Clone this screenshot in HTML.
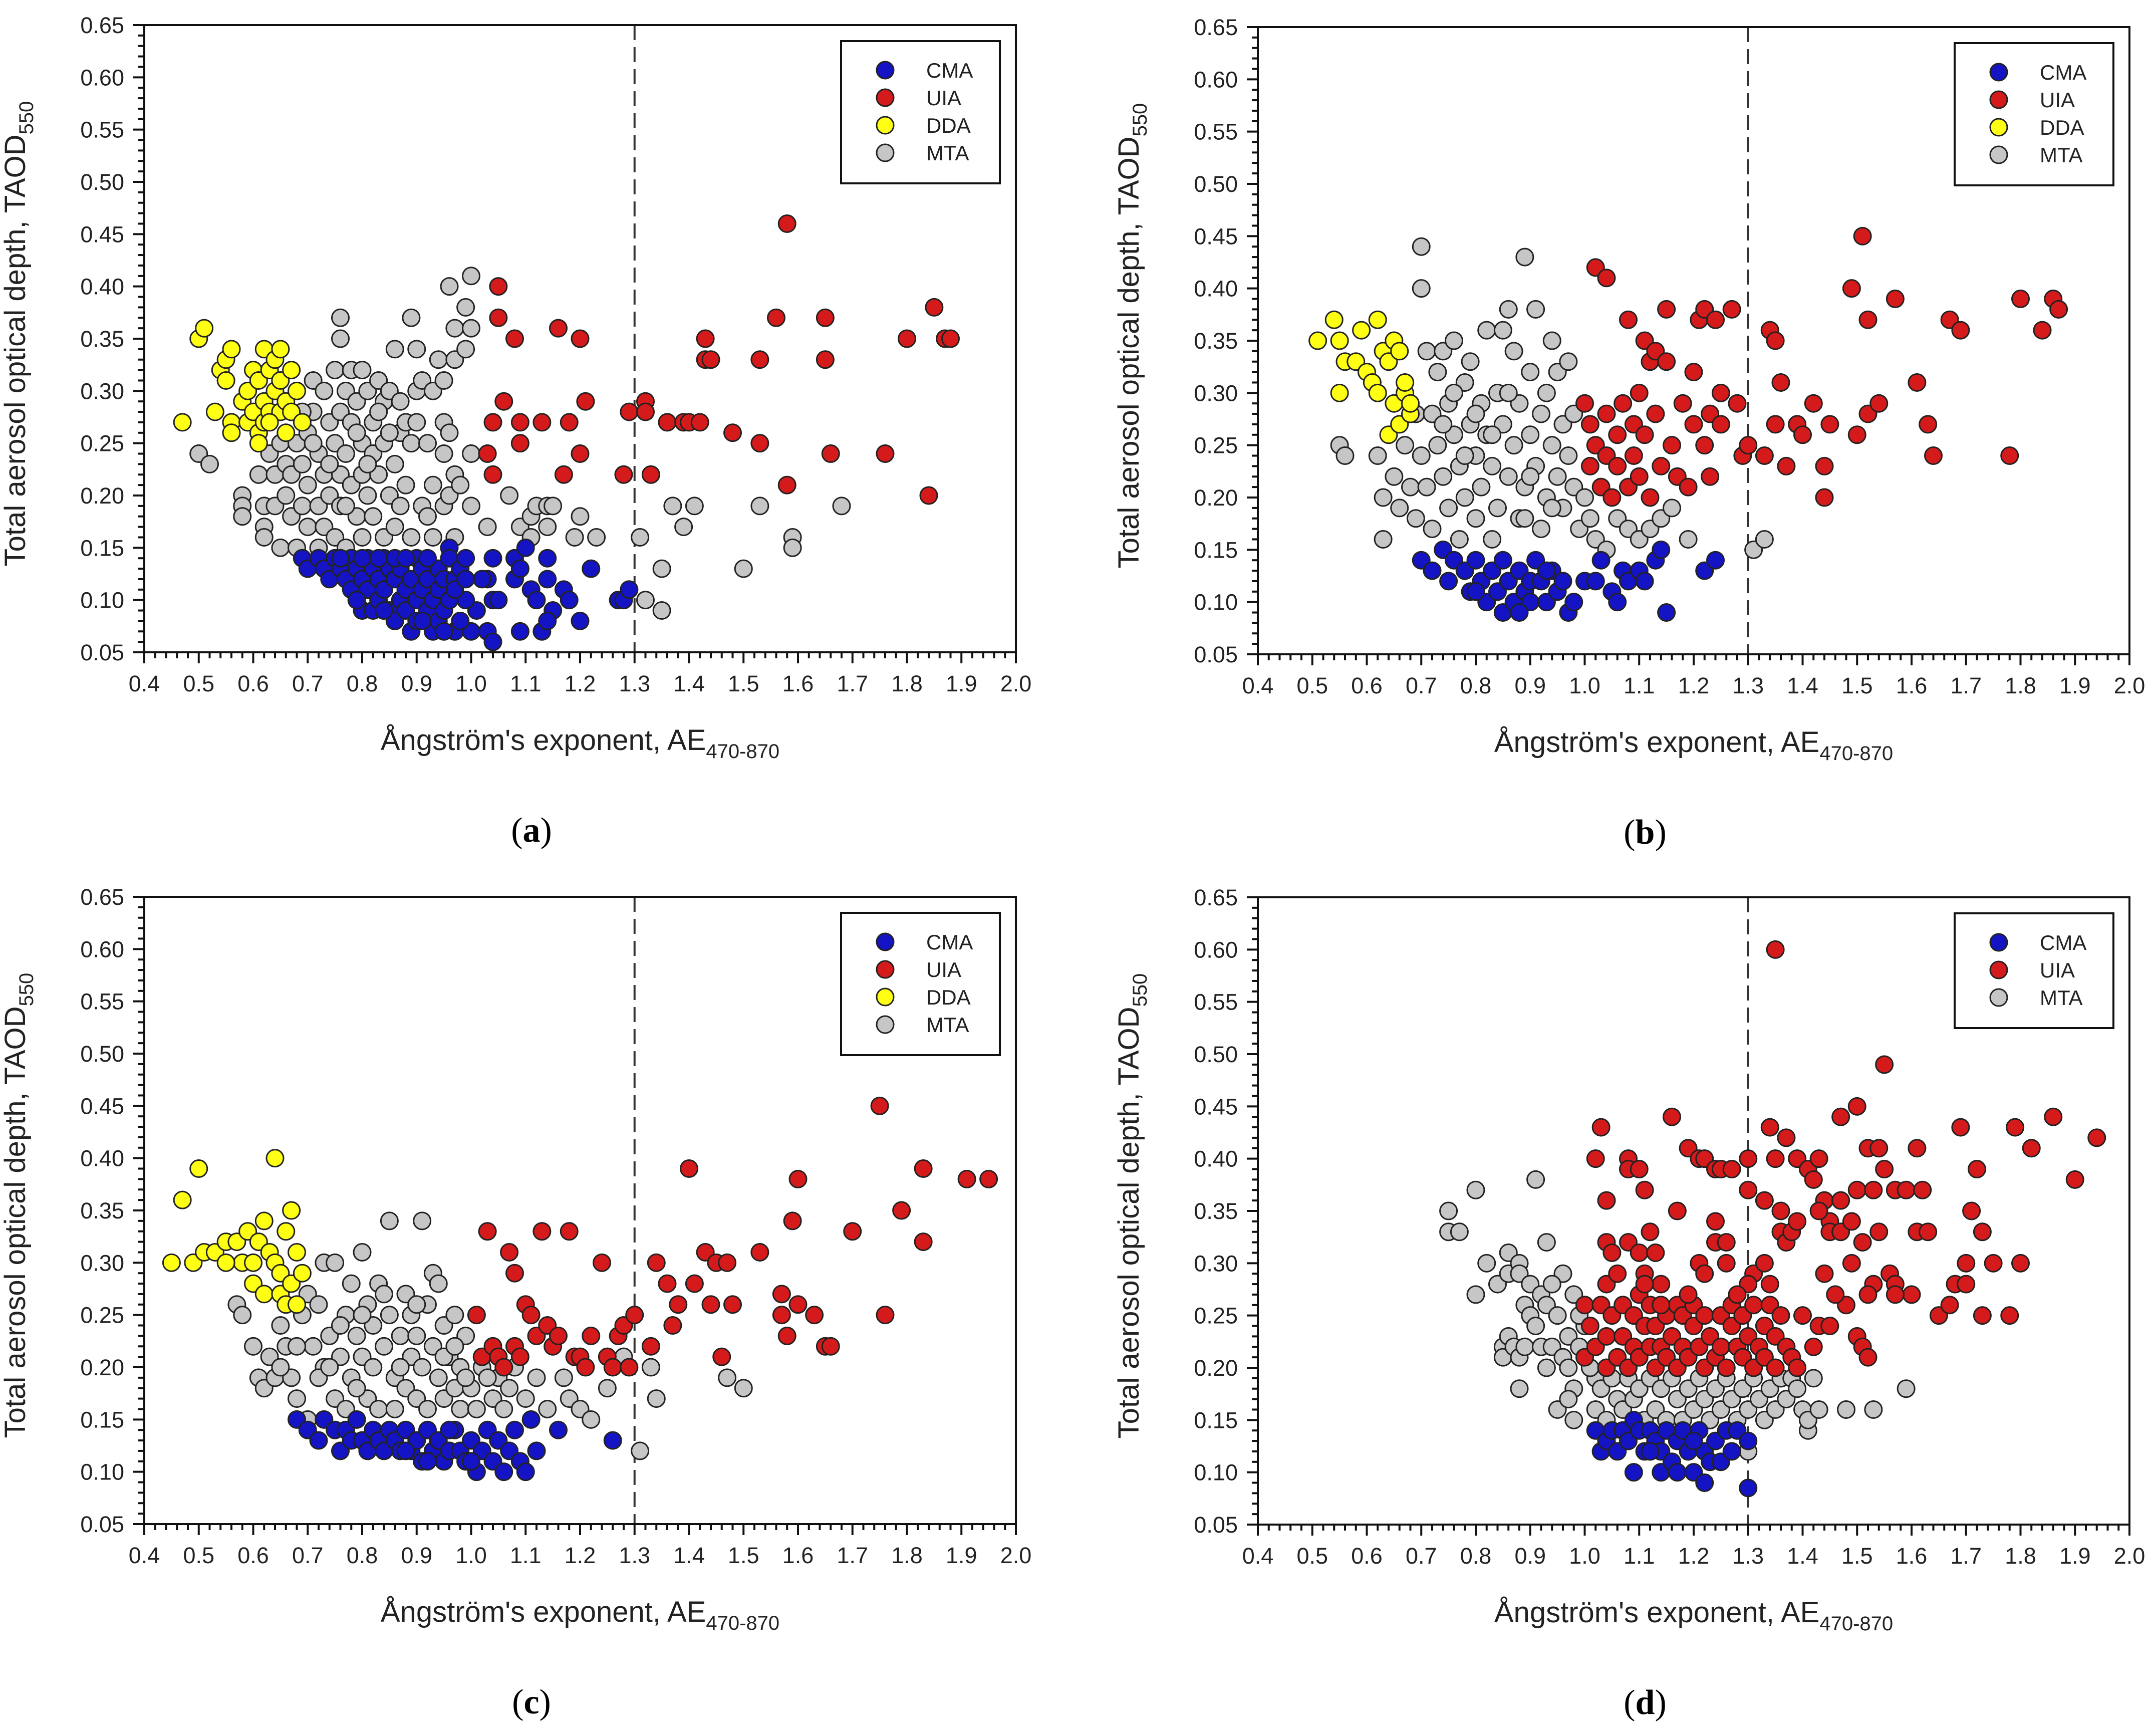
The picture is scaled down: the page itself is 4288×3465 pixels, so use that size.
<!DOCTYPE html>
<html><head><meta charset="utf-8">
<style>
html,body{margin:0;padding:0;background:#fff;}
svg{display:block;}
text{font-family:"Liberation Sans",Arial,sans-serif;fill:#222;}
.lbl{font-family:"Liberation Serif","Times New Roman",serif;fill:#000;}
</style></head>
<body>
<svg id="fig" width="4288" height="3465" viewBox="0 0 4288 3465" xmlns="http://www.w3.org/2000/svg"></svg>
<script>
// ---------- data (AE, TAOD) ----------
const xTicks = [0.4,0.5,0.6,0.7,0.8,0.9,1.0,1.1,1.2,1.3,1.4,1.5,1.6,1.7,1.8,1.9,2.0];
const yTicks = [0.05,0.10,0.15,0.20,0.25,0.30,0.35,0.40,0.45,0.50,0.55,0.60,0.65];
const thresholdAE = 1.3;

const aCMA = [[1.04,0.14],[1.03,0.12],[1.04,0.10],[1.03,0.07],[1.04,0.06],[1.05,0.10],[1.08,0.14],[1.08,0.12],[1.09,0.13],[1.10,0.15],[1.09,0.07],[1.11,0.11],[1.12,0.10],[1.14,0.14],[1.14,0.12],[1.13,0.07],[1.15,0.09],[1.14,0.08],[1.17,0.11],[1.18,0.10],[1.20,0.08],[1.22,0.13],[1.27,0.10],[1.28,0.10],[1.29,0.11],[1.02,0.12],[1.00,0.07],[1.01,0.09],[0.99,0.10],
[0.69,0.14],[0.70,0.13],[0.72,0.14],[0.73,0.13],[0.74,0.12],[0.75,0.14],[0.76,0.13],[0.77,0.12],[0.78,0.11],[0.78,0.14],[0.79,0.13],[0.80,0.12],[0.80,0.09],[0.81,0.14],[0.81,0.11],[0.82,0.13],[0.82,0.09],[0.83,0.12],[0.83,0.10],[0.84,0.14],[0.84,0.11],[0.85,0.13],[0.85,0.09],[0.86,0.12],[0.86,0.08],[0.87,0.10],[0.87,0.13],[0.88,0.11],[0.88,0.09],[0.89,0.12],[0.89,0.07],[0.90,0.14],[0.90,0.10],[0.90,0.08],[0.91,0.13],[0.91,0.11],[0.92,0.09],[0.92,0.12],[0.93,0.10],[0.93,0.07],[0.94,0.08],[0.94,0.11],[0.94,0.13],[0.95,0.12],[0.95,0.09],[0.96,0.15],[0.96,0.10],[0.96,0.14],[0.97,0.12],[0.97,0.07],[0.97,0.11],[0.98,0.13],[0.98,0.08],[0.99,0.14],[0.99,0.12],[0.86,0.14],[0.88,0.14],[0.92,0.14],[0.79,0.10],[0.84,0.09],[0.91,0.08],[0.95,0.07],[0.76,0.14],[0.80,0.14],[0.83,0.14]];
const aUIA = [[1.05,0.40],[1.05,0.37],[1.08,0.35],[1.16,0.36],[1.20,0.35],[1.06,0.29],[1.21,0.29],[1.04,0.27],[1.09,0.27],[1.13,0.27],[1.18,0.27],[1.09,0.25],[1.03,0.24],[1.20,0.24],[1.04,0.22],[1.17,0.22],[1.28,0.22],[1.33,0.22],[1.29,0.28],[1.32,0.29],[1.32,0.28],[1.36,0.27],[1.39,0.27],[1.40,0.27],[1.42,0.27],[1.43,0.35],[1.43,0.33],[1.44,0.33],[1.48,0.26],[1.53,0.25],[1.53,0.33],[1.56,0.37],[1.58,0.46],[1.58,0.21],[1.65,0.37],[1.65,0.33],[1.66,0.24],[1.76,0.24],[1.80,0.35],[1.84,0.20],[1.85,0.38],[1.87,0.35],[1.88,0.35]];
const aDDA = [[0.47,0.27],[0.50,0.35],[0.51,0.36],[0.53,0.28],[0.54,0.32],[0.55,0.31],[0.55,0.33],[0.56,0.34],[0.56,0.27],[0.56,0.26],[0.58,0.29],[0.59,0.30],[0.59,0.27],[0.60,0.32],[0.60,0.28],[0.61,0.31],[0.61,0.26],[0.62,0.34],[0.62,0.29],[0.62,0.27],[0.63,0.32],[0.63,0.28],[0.64,0.30],[0.64,0.33],[0.65,0.34],[0.65,0.31],[0.65,0.28],[0.66,0.29],[0.66,0.26],[0.67,0.32],[0.67,0.28],[0.68,0.30],[0.69,0.27],[0.61,0.25],[0.63,0.27]];
const aMTA = [[0.50,0.24],[0.52,0.23],[0.58,0.20],[0.58,0.19],[0.58,0.18],[0.61,0.22],[0.62,0.19],[0.62,0.17],[0.62,0.16],[0.65,0.15],[0.64,0.19],[0.63,0.24],[0.64,0.22],[0.65,0.25],[0.66,0.23],[0.66,0.20],[0.67,0.18],[0.67,0.22],[0.68,0.15],[0.68,0.25],[0.69,0.19],[0.69,0.23],[0.70,0.17],[0.70,0.21],[0.70,0.26],[0.71,0.28],[0.71,0.31],[0.72,0.24],[0.72,0.19],[0.72,0.15],[0.73,0.30],[0.73,0.22],[0.73,0.17],[0.74,0.27],[0.74,0.20],[0.75,0.32],[0.75,0.25],[0.75,0.16],[0.76,0.37],[0.76,0.35],[0.76,0.28],[0.76,0.22],[0.76,0.19],[0.77,0.30],[0.77,0.24],[0.77,0.15],[0.78,0.32],[0.78,0.27],[0.78,0.21],[0.79,0.18],[0.79,0.29],[0.80,0.32],[0.80,0.25],[0.80,0.22],[0.80,0.16],[0.81,0.30],[0.81,0.20],[0.82,0.27],[0.82,0.24],[0.82,0.18],[0.83,0.31],[0.83,0.22],[0.84,0.29],[0.84,0.25],[0.84,0.16],[0.85,0.30],[0.85,0.20],[0.86,0.34],[0.86,0.23],[0.86,0.17],[0.87,0.26],[0.87,0.19],[0.88,0.27],[0.88,0.21],[0.89,0.37],[0.89,0.25],[0.89,0.16],[0.90,0.34],[0.90,0.30],[0.90,0.27],[0.91,0.31],[0.91,0.19],[0.92,0.18],[0.93,0.30],[0.93,0.21],[0.93,0.16],[0.94,0.33],[0.95,0.31],[0.95,0.27],[0.95,0.24],[0.95,0.19],[0.96,0.40],[0.96,0.26],[0.96,0.20],[0.97,0.36],[0.97,0.33],[0.97,0.22],[0.97,0.16],[0.98,0.21],[0.99,0.38],[0.99,0.34],[1.00,0.41],[1.00,0.36],[1.00,0.24],[1.00,0.19],[1.03,0.17],[1.07,0.20],[1.09,0.17],[1.11,0.16],[1.11,0.18],[1.12,0.19],[1.14,0.19],[1.15,0.19],[1.14,0.17],[1.19,0.16],[1.20,0.18],[1.23,0.16],[1.31,0.16],[1.32,0.10],[1.35,0.13],[1.35,0.09],[1.37,0.19],[1.39,0.17],[1.41,0.19],[1.50,0.13],[1.53,0.19],[1.59,0.16],[1.59,0.15],[1.68,0.19],[0.69,0.28],[0.71,0.25],[0.74,0.23],[0.79,0.26],[0.83,0.28],[0.87,0.29],[0.92,0.25],[0.85,0.26],[0.81,0.23],[0.77,0.19]];

const bCMA = [[0.70,0.14],[0.72,0.13],[0.74,0.15],[0.75,0.12],[0.76,0.14],[0.78,0.13],[0.79,0.11],[0.80,0.14],[0.81,0.12],[0.82,0.10],[0.83,0.13],[0.84,0.11],[0.85,0.14],[0.85,0.09],[0.86,0.12],[0.87,0.10],[0.88,0.13],[0.89,0.11],[0.90,0.12],[0.90,0.10],[0.91,0.14],[0.92,0.12],[0.93,0.10],[0.94,0.13],[0.95,0.11],[0.96,0.12],[0.97,0.09],[0.98,0.10],[1.00,0.12],[1.02,0.12],[1.03,0.14],[1.05,0.11],[1.06,0.10],[1.07,0.13],[1.08,0.12],[1.10,0.13],[1.11,0.12],[1.13,0.14],[1.14,0.15],[1.15,0.09],[1.22,0.13],[1.24,0.14],[0.88,0.09],[0.93,0.13],[0.80,0.11]];
const bUIA = [[1.02,0.42],[1.04,0.41],[1.00,0.29],[1.01,0.27],[1.01,0.23],[1.02,0.25],[1.03,0.21],[1.04,0.28],[1.04,0.24],[1.05,0.20],[1.06,0.26],[1.06,0.23],[1.07,0.29],[1.08,0.21],[1.08,0.37],[1.09,0.27],[1.09,0.24],[1.10,0.30],[1.10,0.22],[1.11,0.35],[1.11,0.26],[1.12,0.33],[1.12,0.20],[1.13,0.34],[1.13,0.28],[1.14,0.23],[1.15,0.38],[1.15,0.33],[1.16,0.25],[1.17,0.22],[1.18,0.29],[1.19,0.21],[1.20,0.27],[1.20,0.32],[1.21,0.37],[1.22,0.38],[1.22,0.25],[1.23,0.22],[1.23,0.28],[1.24,0.37],[1.25,0.30],[1.25,0.27],[1.27,0.38],[1.28,0.29],[1.29,0.24],[1.30,0.25],[1.33,0.24],[1.34,0.36],[1.35,0.35],[1.35,0.27],[1.36,0.31],[1.37,0.23],[1.39,0.27],[1.40,0.26],[1.42,0.29],[1.44,0.23],[1.44,0.20],[1.45,0.27],[1.49,0.40],[1.50,0.26],[1.51,0.45],[1.52,0.37],[1.52,0.28],[1.54,0.29],[1.57,0.39],[1.61,0.31],[1.63,0.27],[1.64,0.24],[1.67,0.37],[1.69,0.36],[1.78,0.24],[1.80,0.39],[1.84,0.36],[1.86,0.39],[1.87,0.38]];
const bDDA = [[0.51,0.35],[0.54,0.37],[0.55,0.35],[0.55,0.30],[0.56,0.33],[0.58,0.33],[0.59,0.36],[0.60,0.32],[0.61,0.31],[0.62,0.37],[0.62,0.30],[0.63,0.34],[0.64,0.33],[0.64,0.26],[0.65,0.35],[0.65,0.29],[0.66,0.34],[0.66,0.27],[0.67,0.30],[0.67,0.31],[0.68,0.28],[0.68,0.29]];
const bMTA = [[0.55,0.25],[0.56,0.24],[0.62,0.24],[0.63,0.20],[0.63,0.16],[0.65,0.22],[0.66,0.19],[0.67,0.25],[0.68,0.21],[0.69,0.28],[0.69,0.18],[0.70,0.44],[0.70,0.40],[0.70,0.24],[0.71,0.34],[0.71,0.21],[0.72,0.28],[0.72,0.17],[0.73,0.32],[0.73,0.25],[0.74,0.34],[0.74,0.22],[0.75,0.29],[0.75,0.19],[0.76,0.35],[0.76,0.26],[0.77,0.23],[0.77,0.16],[0.78,0.31],[0.78,0.20],[0.79,0.33],[0.79,0.27],[0.80,0.24],[0.80,0.18],[0.81,0.29],[0.81,0.21],[0.82,0.36],[0.82,0.26],[0.83,0.23],[0.83,0.16],[0.84,0.30],[0.84,0.19],[0.85,0.36],[0.85,0.27],[0.86,0.38],[0.86,0.22],[0.87,0.34],[0.87,0.25],[0.88,0.18],[0.88,0.29],[0.89,0.43],[0.89,0.21],[0.90,0.26],[0.90,0.32],[0.91,0.38],[0.91,0.23],[0.92,0.28],[0.92,0.17],[0.93,0.30],[0.93,0.20],[0.94,0.35],[0.94,0.25],[0.95,0.22],[0.95,0.32],[0.96,0.27],[0.96,0.19],[0.97,0.33],[0.97,0.24],[0.98,0.21],[0.98,0.28],[0.99,0.17],[1.00,0.20],[1.01,0.18],[1.02,0.16],[1.04,0.15],[1.06,0.18],[1.08,0.17],[1.10,0.16],[1.12,0.17],[1.14,0.18],[1.16,0.19],[1.19,0.16],[1.31,0.15],[1.33,0.16],[0.76,0.30],[0.80,0.28],[0.83,0.26],[0.86,0.30],[0.90,0.22],[0.94,0.19],[0.89,0.18],[0.74,0.27],[0.78,0.24]];

const cCMA = [[0.68,0.15],[0.70,0.14],[0.72,0.13],[0.73,0.15],[0.75,0.14],[0.76,0.12],[0.77,0.14],[0.78,0.13],[0.79,0.15],[0.80,0.13],[0.81,0.12],[0.82,0.14],[0.83,0.13],[0.84,0.12],[0.85,0.14],[0.86,0.13],[0.87,0.12],[0.88,0.14],[0.89,0.12],[0.90,0.13],[0.91,0.11],[0.92,0.14],[0.93,0.12],[0.94,0.13],[0.95,0.11],[0.96,0.12],[0.97,0.14],[0.98,0.12],[0.99,0.11],[1.00,0.13],[1.01,0.10],[1.02,0.12],[1.03,0.14],[1.04,0.11],[1.05,0.13],[1.06,0.10],[1.07,0.12],[1.08,0.14],[1.09,0.11],[1.10,0.10],[1.11,0.15],[1.12,0.12],[1.16,0.14],[1.26,0.13],[0.92,0.11],[0.88,0.12],[0.96,0.14],[1.00,0.11]];
const cUIA = [[1.01,0.25],[1.02,0.21],[1.03,0.33],[1.04,0.22],[1.05,0.21],[1.06,0.20],[1.07,0.31],[1.08,0.29],[1.08,0.22],[1.09,0.21],[1.10,0.26],[1.11,0.25],[1.12,0.23],[1.13,0.33],[1.14,0.24],[1.15,0.22],[1.16,0.23],[1.18,0.33],[1.19,0.21],[1.20,0.21],[1.21,0.20],[1.22,0.23],[1.24,0.30],[1.25,0.21],[1.26,0.20],[1.27,0.23],[1.28,0.24],[1.29,0.20],[1.30,0.25],[1.33,0.22],[1.34,0.30],[1.36,0.28],[1.37,0.24],[1.38,0.26],[1.40,0.39],[1.41,0.28],[1.43,0.31],[1.44,0.26],[1.45,0.30],[1.46,0.21],[1.47,0.30],[1.48,0.26],[1.53,0.31],[1.57,0.27],[1.57,0.25],[1.58,0.23],[1.59,0.34],[1.60,0.38],[1.60,0.26],[1.63,0.25],[1.65,0.22],[1.66,0.22],[1.70,0.33],[1.75,0.45],[1.76,0.25],[1.79,0.35],[1.83,0.39],[1.83,0.32],[1.91,0.38],[1.95,0.38]];
const cDDA = [[0.45,0.30],[0.47,0.36],[0.49,0.30],[0.50,0.39],[0.51,0.31],[0.53,0.31],[0.55,0.32],[0.57,0.32],[0.58,0.30],[0.59,0.33],[0.60,0.28],[0.61,0.32],[0.62,0.27],[0.62,0.34],[0.63,0.31],[0.64,0.40],[0.64,0.30],[0.65,0.27],[0.65,0.29],[0.66,0.33],[0.66,0.26],[0.67,0.35],[0.67,0.28],[0.68,0.31],[0.68,0.26],[0.69,0.29],[0.60,0.30],[0.55,0.30]];
const cMTA = [[0.57,0.26],[0.58,0.25],[0.60,0.22],[0.61,0.19],[0.62,0.18],[0.63,0.21],[0.64,0.19],[0.65,0.24],[0.66,0.22],[0.67,0.19],[0.68,0.17],[0.69,0.25],[0.70,0.27],[0.70,0.15],[0.71,0.22],[0.72,0.26],[0.73,0.30],[0.73,0.20],[0.74,0.23],[0.75,0.30],[0.75,0.17],[0.76,0.21],[0.77,0.25],[0.77,0.16],[0.78,0.28],[0.78,0.19],[0.79,0.23],[0.80,0.31],[0.80,0.21],[0.81,0.26],[0.81,0.17],[0.82,0.24],[0.82,0.20],[0.83,0.28],[0.83,0.16],[0.84,0.22],[0.85,0.34],[0.85,0.25],[0.86,0.19],[0.86,0.16],[0.87,0.23],[0.88,0.27],[0.88,0.18],[0.89,0.21],[0.89,0.25],[0.90,0.17],[0.90,0.23],[0.91,0.34],[0.91,0.20],[0.92,0.26],[0.92,0.16],[0.93,0.29],[0.93,0.22],[0.94,0.19],[0.94,0.28],[0.95,0.24],[0.95,0.17],[0.96,0.21],[0.97,0.25],[0.97,0.18],[0.98,0.20],[0.98,0.16],[0.99,0.23],[1.00,0.18],[1.01,0.16],[1.02,0.20],[1.04,0.17],[1.05,0.19],[1.06,0.16],[1.07,0.18],[1.08,0.20],[1.10,0.17],[1.12,0.19],[1.14,0.16],[1.17,0.19],[1.18,0.17],[1.20,0.16],[1.22,0.15],[1.25,0.18],[1.28,0.21],[1.31,0.12],[1.33,0.20],[1.34,0.17],[1.47,0.19],[1.50,0.18],[0.68,0.22],[0.72,0.19],[0.76,0.24],[0.79,0.18],[0.84,0.27],[0.87,0.20],[0.90,0.26],[0.95,0.21],[0.99,0.19],[0.80,0.25],[0.74,0.20],[0.97,0.22],[1.03,0.19],[0.65,0.20]];

const dCMA = [[1.02,0.14],[1.03,0.12],[1.04,0.13],[1.05,0.14],[1.06,0.12],[1.07,0.14],[1.08,0.13],[1.09,0.10],[1.09,0.15],[1.10,0.14],[1.11,0.12],[1.12,0.14],[1.13,0.13],[1.14,0.10],[1.14,0.12],[1.15,0.14],[1.16,0.11],[1.17,0.13],[1.17,0.10],[1.18,0.14],[1.19,0.12],[1.20,0.10],[1.21,0.14],[1.22,0.12],[1.22,0.09],[1.23,0.11],[1.24,0.13],[1.25,0.11],[1.26,0.14],[1.27,0.12],[1.28,0.14],[1.30,0.13],[1.30,0.085],[1.12,0.12],[1.20,0.13]];
const dUIA = [[1.02,0.40],[1.03,0.43],[1.04,0.36],[1.08,0.40],[1.08,0.39],[1.10,0.39],[1.11,0.37],[1.16,0.44],[1.17,0.35],[1.19,0.41],[1.21,0.40],[1.22,0.40],[1.24,0.39],[1.25,0.39],[1.27,0.39],[1.30,0.40],[1.30,0.37],[1.33,0.36],[1.34,0.43],[1.35,0.40],[1.35,0.60],[1.36,0.35],[1.37,0.42],[1.39,0.40],[1.41,0.39],[1.42,0.38],[1.43,0.40],[1.44,0.36],[1.45,0.34],[1.47,0.44],[1.47,0.36],[1.50,0.45],[1.50,0.37],[1.52,0.41],[1.53,0.37],[1.54,0.41],[1.55,0.49],[1.55,0.39],[1.57,0.37],[1.59,0.37],[1.61,0.41],[1.62,0.37],[1.69,0.43],[1.72,0.39],[1.79,0.43],[1.82,0.41],[1.86,0.44],[1.90,0.38],[1.94,0.42],
[1.04,0.32],[1.05,0.31],[1.08,0.32],[1.10,0.31],[1.12,0.33],[1.13,0.31],[1.11,0.29],[1.14,0.28],[1.04,0.28],[1.06,0.29],[1.21,0.30],[1.22,0.29],[1.24,0.32],[1.24,0.34],[1.26,0.30],[1.26,0.32],[1.31,0.29],[1.33,0.30],[1.34,0.28],[1.36,0.33],[1.37,0.32],[1.38,0.33],[1.39,0.34],[1.43,0.35],[1.45,0.33],[1.47,0.33],[1.49,0.34],[1.49,0.30],[1.51,0.32],[1.53,0.28],[1.54,0.33],[1.56,0.29],[1.57,0.28],[1.61,0.33],[1.63,0.33],[1.70,0.30],[1.71,0.35],[1.73,0.33],[1.75,0.30],[1.80,0.30],[1.68,0.28],[1.70,0.28],[1.60,0.27],[1.65,0.25],[1.67,0.26],[1.73,0.25],[1.78,0.25],[1.52,0.27],[1.57,0.27],[1.50,0.23],[1.51,0.22],[1.52,0.21],[1.48,0.26],[1.46,0.27],[1.44,0.29],[1.43,0.24],[1.45,0.24],[1.42,0.22],[1.40,0.25],
[1.00,0.26],[1.00,0.21],[1.01,0.24],[1.02,0.22],[1.03,0.26],[1.04,0.23],[1.04,0.20],[1.05,0.25],[1.06,0.21],[1.07,0.26],[1.07,0.23],[1.08,0.20],[1.09,0.25],[1.09,0.22],[1.10,0.27],[1.10,0.21],[1.11,0.24],[1.12,0.22],[1.12,0.26],[1.13,0.20],[1.13,0.24],[1.14,0.22],[1.15,0.25],[1.15,0.21],[1.16,0.23],[1.17,0.26],[1.17,0.20],[1.18,0.22],[1.18,0.25],[1.19,0.21],[1.20,0.24],[1.20,0.26],[1.21,0.22],[1.22,0.20],[1.22,0.25],[1.23,0.23],[1.24,0.21],[1.25,0.25],[1.25,0.22],[1.26,0.20],[1.27,0.24],[1.27,0.26],[1.28,0.22],[1.29,0.21],[1.29,0.25],[1.30,0.23],[1.31,0.20],[1.31,0.26],[1.32,0.22],[1.33,0.24],[1.33,0.21],[1.34,0.26],[1.35,0.23],[1.35,0.20],[1.36,0.25],[1.37,0.22],[1.38,0.21],[1.39,0.20],[1.30,0.28],[1.28,0.27],[1.11,0.28],[1.14,0.26],[1.19,0.27]];
const dMTA = [[0.75,0.35],[0.75,0.33],[0.77,0.33],[0.80,0.37],[0.80,0.27],[0.82,0.30],[0.84,0.28],[0.86,0.29],[0.86,0.31],[0.88,0.30],[0.88,0.29],[0.90,0.28],[0.91,0.38],[0.93,0.32],[0.96,0.29],[0.85,0.22],[0.85,0.21],[0.86,0.23],[0.87,0.22],[0.88,0.21],[0.89,0.26],[0.89,0.22],[0.90,0.25],[0.91,0.24],[0.92,0.27],[0.92,0.22],[0.93,0.20],[0.93,0.26],[0.94,0.28],[0.94,0.22],[0.95,0.25],[0.96,0.21],[0.97,0.20],[0.97,0.23],[0.98,0.27],[0.98,0.18],[0.99,0.22],[0.88,0.18],[0.95,0.16],[0.97,0.17],[0.98,0.15],[1.02,0.19],[1.02,0.16],[1.03,0.18],[1.04,0.15],[1.05,0.19],[1.06,0.17],[1.07,0.16],[1.08,0.19],[1.09,0.17],[1.10,0.18],[1.11,0.15],[1.12,0.19],[1.13,0.16],[1.14,0.18],[1.15,0.15],[1.16,0.19],[1.17,0.17],[1.18,0.15],[1.19,0.18],[1.20,0.16],[1.21,0.19],[1.22,0.17],[1.23,0.15],[1.24,0.18],[1.25,0.16],[1.26,0.19],[1.27,0.17],[1.28,0.15],[1.29,0.18],[1.30,0.16],[1.30,0.12],[1.31,0.19],[1.32,0.17],[1.33,0.15],[1.34,0.18],[1.35,0.16],[1.36,0.19],[1.37,0.17],[1.38,0.19],[1.39,0.18],[1.40,0.16],[1.41,0.14],[1.41,0.15],[1.42,0.19],[1.43,0.16],[1.48,0.16],[1.53,0.16],[1.59,0.18],[1.00,0.24],[1.01,0.20],[0.99,0.25]];

const seriesNames = ["MTA","DDA","UIA","CMA"];
const seriesColors = {CMA:"#1414c4",UIA:"#d41a1a",DDA:"#ffff14",MTA:"#c6c6c6"};
const panelData = {
  a:{MTA:aMTA,DDA:aDDA,UIA:aUIA,CMA:aCMA},
  b:{MTA:bMTA,DDA:bDDA,UIA:bUIA,CMA:bCMA},
  c:{MTA:cMTA,DDA:cDDA,UIA:cUIA,CMA:cCMA},
  d:{MTA:dMTA,UIA:dUIA,CMA:dCMA}
};
const legendOrders = {a:["CMA","UIA","DDA","MTA"],b:["CMA","UIA","DDA","MTA"],c:["CMA","UIA","DDA","MTA"],d:["CMA","UIA","MTA"]};

// ---------- layout ----------
const NS = "http://www.w3.org/2000/svg";
const svg = document.getElementById("fig");
const panels = [
  {id:"a", x0:288,  top:50,   w:1740, h:1252},
  {id:"b", x0:2511, top:54,   w:1740, h:1252},
  {id:"c", x0:288,  top:1790, w:1740, h:1252},
  {id:"d", x0:2511, top:1791, w:1740, h:1252}
];
function mk(tag, attrs, parent){
  const e = document.createElementNS(NS, tag);
  for (const k in attrs) e.setAttribute(k, attrs[k]);
  (parent||svg).appendChild(e);
  return e;
}
const XMIN=0.4, XMAX=2.0, YMIN=0.05, YMAX=0.65;

panels.forEach(p => {
  const g = mk("g", {});
  
  
  const sx = v => p.x0 + (v - XMIN) / (XMAX - XMIN) * p.w;
  const sy = v => p.top + p.h - (v - YMIN) / (YMAX - YMIN) * p.h;
  const bottom = p.top + p.h;

  for (let i = 0; i <= 80; i++) {
    const v = XMIN + i * 0.02;
    const major = i % 5 === 0;
    const t = mk("line", {x1:sx(v), x2:sx(v), y1:bottom, y2:bottom + (major?22:12), stroke:"#111", "stroke-width":4}, g);
    
    
  }
  for (let i = 0; i <= 60; i++) {
    const v = YMIN + i * 0.01;
    const major = i % 5 === 0;
    const t = mk("line", {x1:p.x0 - (major?22:12), x2:p.x0, y1:sy(v), y2:sy(v), stroke:"#111", "stroke-width":4}, g);
    
    
  }
  xTicks.forEach(v => {
    const t = mk("text", {x:sx(v), y:bottom + 78, "font-size":45, "text-anchor":"middle"}, g);
    t.textContent = v.toFixed(1);
    
    
  });
  yTicks.forEach(v => {
    const t = mk("text", {x:p.x0 - 40, y:sy(v) + 16, "font-size":45, "text-anchor":"end"}, g);
    t.textContent = v.toFixed(2);
    
    
  });

  const dl = mk("line", {x1:sx(thresholdAE), x2:sx(thresholdAE), y1:p.top, y2:bottom, stroke:"#333", "stroke-width":4, "stroke-dasharray":"30 14"}, g);
  
  

  seriesNames.forEach(s => {
    const arr = panelData[p.id][s];
    if (!arr) return;
    const sg = mk("g", {}, g);
    
    
    arr.forEach(d => {
      const c = mk("circle", {cx:sx(d[0]), cy:sy(d[1]), r:17, fill:seriesColors[s], stroke:"#222", "stroke-width":3}, sg);
      
      
    });
  });

  const fr = mk("rect", {x:p.x0, y:p.top, width:p.w, height:p.h, fill:"none", stroke:"#111", "stroke-width":4}, g);
  
  

  const order = legendOrders[p.id];
  const lx = p.x0 + 1391, ly = p.top + 32, lw = 317, lh = 64 + order.length * 55;
  const lg = mk("g", {}, g);
  
  
  mk("rect", {x:lx, y:ly, width:lw, height:lh, fill:"#fff", stroke:"#111", "stroke-width":4}, lg);
  order.forEach((s, i) => {
    const cy = ly + 58 + i * 55;
    const e = mk("g", {}, lg);
    
    
    mk("circle", {cx:lx + 88, cy:cy, r:17, fill:seriesColors[s], stroke:"#222", "stroke-width":3}, e);
    const t = mk("text", {x:lx + 170, y:cy + 15, "font-size":42}, e);
    t.textContent = s;
  });

  const xt = mk("text", {x:p.x0 + 870, y:bottom + 195, "font-size":58, "text-anchor":"middle"}, g);
  
  
  xt.innerHTML = 'Ångström\'s exponent, AE<tspan font-size="40" dy="16">470-870</tspan>';

  const yx = p.x0 - 238, yy = p.top + p.h / 2 - 10;
  const yt = mk("text", {x:yx, y:yy, "font-size":58, "text-anchor":"middle", transform:`rotate(-90 ${yx} ${yy})`}, g);
  
  
  yt.innerHTML = 'Total aerosol optical depth, TAOD<tspan font-size="40" dy="16">550</tspan>';

  const pl = mk("text", {x:p.x0 + 773, y:bottom + 378, "font-size":70, "text-anchor":"middle", class:"lbl"}, g);
  
  
  pl.innerHTML = '(<tspan font-weight="bold">' + p.id + '</tspan>)';
});
</script>
</body></html>
